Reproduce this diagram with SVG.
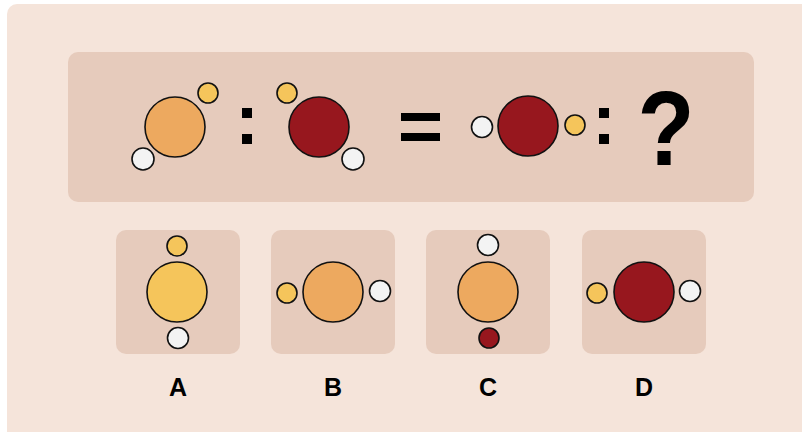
<svg xmlns="http://www.w3.org/2000/svg" width="802" height="432" viewBox="0 0 802 432">
<style>
.bg{fill:#f5e4da}
.panel{fill:#e6cbbc}
.at{stroke:#111;stroke-width:1.6}
.org{fill:#eda95f}
.red{fill:#97171e}
.yel{fill:#f5c55b}
.wht{fill:#f3f3f3}
.sym{fill:#000}
.lbl{font-family:"Liberation Sans",Arial,sans-serif;font-weight:bold;font-size:25px;fill:#000;text-anchor:middle}
</style>
<rect x="0" y="0" width="802" height="432" fill="#ffffff"/>
<rect class="bg" x="7" y="4" width="810" height="440" rx="10"/>
<g id="question">
<rect class="panel" x="68" y="52" width="686" height="150" rx="10"/>
<g id="mol1">
<circle class="at org" cx="175" cy="127" r="30"/>
<circle class="at yel" cx="208" cy="93" r="10"/>
<circle class="at wht" cx="143" cy="159" r="11"/>
</g>
<g id="colon1"><rect class="sym" x="242" y="108" width="10" height="10"/><rect class="sym" x="242" y="134" width="10" height="10"/></g>
<g id="mol2">
<circle class="at red" cx="319" cy="127" r="30"/>
<circle class="at yel" cx="287" cy="93" r="10"/>
<circle class="at wht" cx="353" cy="159" r="11"/>
</g>
<g id="equals"><rect class="sym" x="401" y="113" width="39" height="8"/><rect class="sym" x="401" y="133" width="39" height="8"/></g>
<g id="mol3">
<circle class="at wht" cx="482" cy="127" r="10.5"/>
<circle class="at red" cx="528" cy="126" r="30"/>
<circle class="at yel" cx="575" cy="125" r="10"/>
</g>
<g id="colon2"><rect class="sym" x="599" y="108" width="10" height="10"/><rect class="sym" x="599" y="134" width="10" height="10"/></g>
<text x="0" y="0" transform="translate(666,165) scale(0.88,1)" font-family="'Liberation Sans',Arial,sans-serif" font-weight="bold" font-size="106" text-anchor="middle" fill="#000">?</text>
</g>
<g id="optA">
<rect class="panel" x="116" y="230" width="124" height="124" rx="10"/>
<circle class="at yel" cx="177" cy="292" r="30"/>
<circle class="at yel" cx="177" cy="246" r="10"/>
<circle class="at wht" cx="178" cy="338" r="10.5"/>
<text class="lbl" x="178" y="396">A</text>
</g>
<g id="optB">
<rect class="panel" x="271" y="230" width="124" height="124" rx="10"/>
<circle class="at org" cx="333" cy="292" r="30"/>
<circle class="at yel" cx="287" cy="293" r="10"/>
<circle class="at wht" cx="380" cy="291" r="10.5"/>
<text class="lbl" x="333" y="396">B</text>
</g>
<g id="optC">
<rect class="panel" x="426" y="230" width="124" height="124" rx="10"/>
<circle class="at org" cx="488" cy="292" r="30"/>
<circle class="at wht" cx="488" cy="245" r="10.5"/>
<circle class="at red" cx="489" cy="338" r="10"/>
<text class="lbl" x="488" y="396">C</text>
</g>
<g id="optD">
<rect class="panel" x="582" y="230" width="124" height="124" rx="10"/>
<circle class="at red" cx="644" cy="292" r="30"/>
<circle class="at yel" cx="597" cy="293" r="10"/>
<circle class="at wht" cx="690" cy="291" r="10.5"/>
<text class="lbl" x="644" y="396">D</text>
</g>
</svg>
